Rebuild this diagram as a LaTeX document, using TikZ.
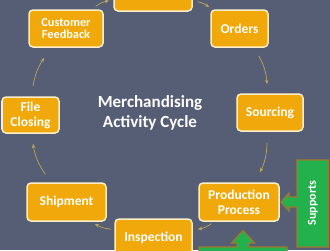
\documentclass[tikz,border=0pt]{standalone}
\usepackage{fontspec}
\setmainfont{Carlito}
\usetikzlibrary{arrows.meta}
\definecolor{bgcol}{HTML}{565E75}
\definecolor{boxfill}{HTML}{F0A80A}
\definecolor{boxline}{HTML}{FCEFC8}
\definecolor{conncol}{HTML}{BCA45A}
\definecolor{grn}{HTML}{22B14C}
\definecolor{grnline}{HTML}{9C7A2C}
\begin{document}
\begin{tikzpicture}[x=1pt,y=-1pt,
  cyclebox/.style={draw=boxline, line width=1.5pt, fill=boxfill, rounded corners=4pt,
    text=white, font=\bfseries\fontsize{13.5}{15}\selectfont, align=center, inner sep=0pt},
  connarrow/.style={draw=conncol, line width=0.7pt, -{Stealth[length=4.5pt,width=3.5pt]}, bend left=12},
  grnshape/.style={fill=grn, draw=grnline, line width=1.3pt, line join=miter}]
\useasboundingbox (0,0) rectangle (330,250);
\clip (0,0) rectangle (330,250);
\fill[bgcol] (0,0) rectangle (330,250);

\node[cyclebox, minimum width=78pt, minimum height=37pt] (top) at (153,-7.5) {};
\node[cyclebox, minimum width=74pt, minimum height=37pt, font=\bfseries\fontsize{12.3}{12.7}\selectfont] (cf) at (66,28.5) {Customer\\Feedback};
\node[cyclebox, minimum width=57pt, minimum height=37pt] (orders) at (239.5,28.5) {Orders};
\node[cyclebox, minimum width=66pt, minimum height=37pt] (sourcing) at (270,112.5) {Sourcing};
\node[cyclebox, minimum width=57pt, minimum height=36pt] (fc) at (30.5,115) {File\\Closing};
\node[cyclebox, minimum width=79pt, minimum height=38pt] (ship) at (66.5,202) {Shipment};
\node[cyclebox, minimum width=80pt, minimum height=38pt] (prod) at (239,202) {Production\\Process};
\node[cyclebox, minimum width=77pt, minimum height=37pt] (insp) at (153.5,237.5) {Inspection};

\node[text=white, font=\bfseries\fontsize{17}{20}\selectfont, align=center] (title) at (150,113) {Merchandising\\Activity Cycle};

\draw[connarrow] ([shift={(-8,-3)}]cf.north east) to ([shift={(-4,-11)}]top.south west);
\draw[connarrow] ([shift={(5,-10)}]top.south east) to ([shift={(-1,-2)}]orders.north west);
\draw[connarrow] ([shift={(-10,8)}]orders.south east) to ([shift={(-3,-9)}]sourcing.north);
\draw[connarrow] ([shift={(-3,11)}]sourcing.south) to ([shift={(21,-10)}]prod.north);
\draw[connarrow] ([shift={(13,2)}]prod.south west) to ([shift={(5,11)}]insp.north east);
\draw[connarrow] ([shift={(-3,11)}]insp.north west) to ([shift={(-12,2)}]ship.south east);
\draw[connarrow] ([shift={(19,-8)}]ship.north west) to ([shift={(2.5,10)}]fc.south);
\draw[connarrow] ([shift={(2.5,-10)}]fc.north) to ([shift={(16,10)}]cf.south west);

\draw[grnshape] (297,160) -- (328.5,160) -- (328.5,247) -- (297,247) -- (297,207) -- (289,207)
  -- (289,211) -- (281,202) -- (289,193) -- (289,197) -- (297,197) -- cycle;
\node[rotate=90, text=white, font=\bfseries\fontsize{12}{14}\selectfont] (supports) at (313,203) {Supports};

\draw[grnshape] (199,247) -- (237,247) -- (237,243) -- (231.5,243) -- (243,230.5) -- (254.5,243)
  -- (249,243) -- (249,247) -- (287,247) -- (287,262) -- (199,262) -- cycle;
\end{tikzpicture}
\end{document}
